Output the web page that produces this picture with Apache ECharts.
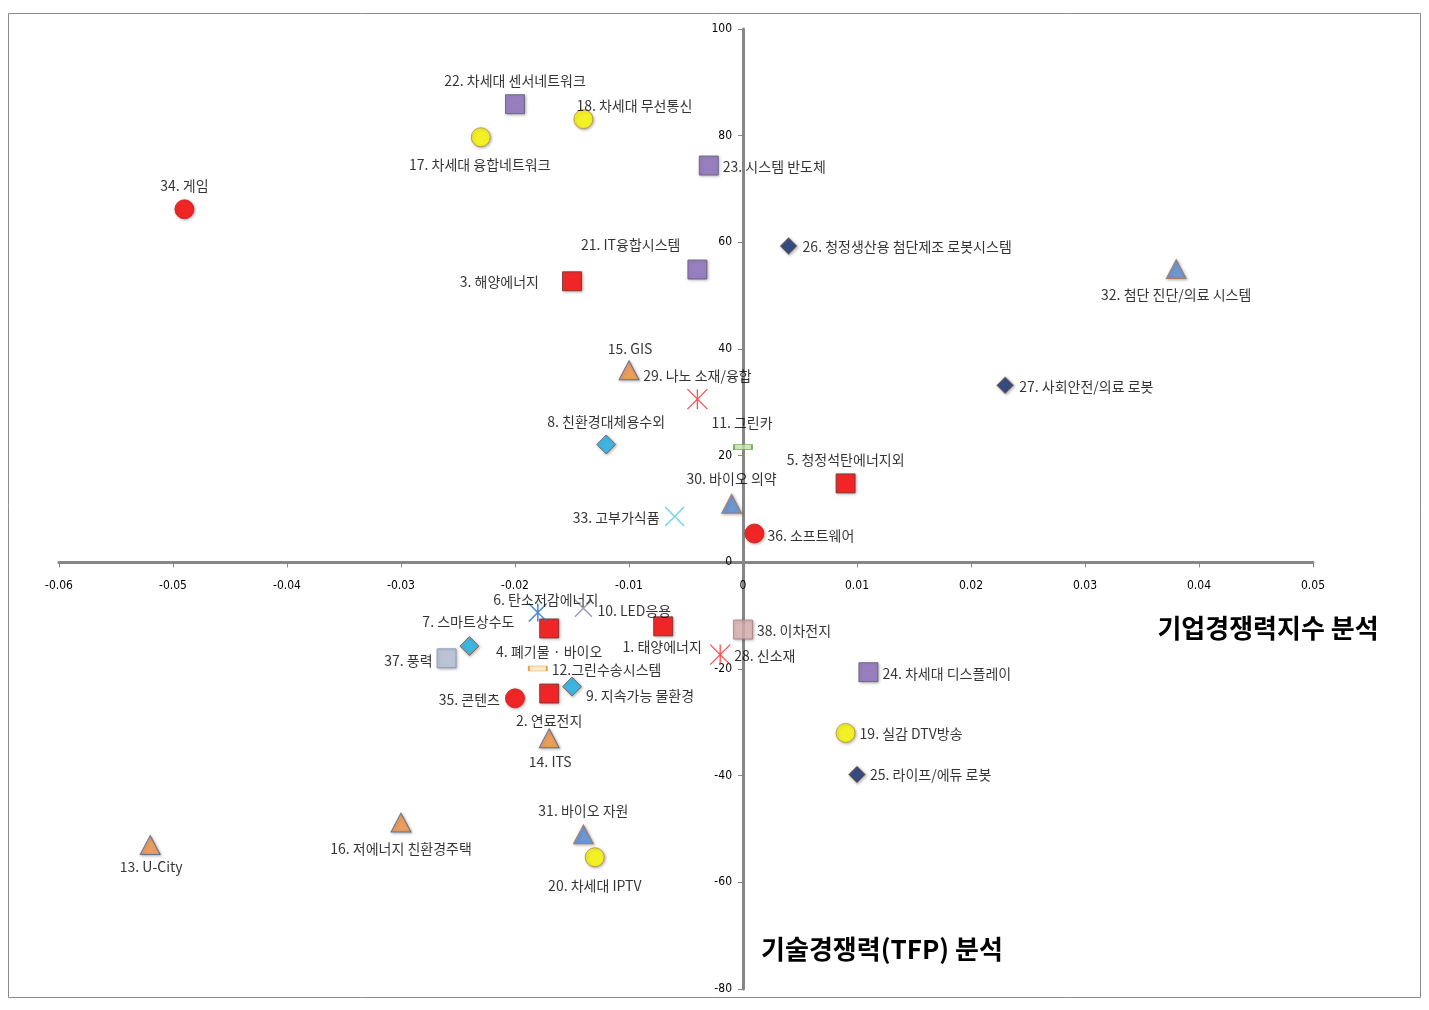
<!DOCTYPE html>
<html><head><meta charset="utf-8">
<script src="https://cdn.jsdelivr.net/npm/echarts@6/dist/echarts.min.js"></script>
<style>html,body{margin:0;padding:0;background:#fff}#c{width:1429px;height:1010px}</style>
</head><body><div id="c"></div>
<script>
// ---- data ----
const itemNames = [
  "1. 태양에너지","2. 연료전지","3. 해양에너지","4. 폐기물 · 바이오","5. 청정석탄에너지외",
  "6. 탄소저감에너지","7. 스마트상수도","8. 친환경대체용수외","9. 지속가능 물환경","10. LED응용",
  "11. 그린카","12.그린수송시스템","13. U-City","14. ITS","15. GIS",
  "16. 저에너지 친환경주택","17. 차세대 융합네트워크","18. 차세대 무선통신","19. 실감 DTV방송","20. 차세대 IPTV",
  "21. IT융합시스템","22. 차세대 센서네트워크","23. 시스템 반도체","24. 차세대 디스플레이","25. 라이프/에듀 로봇",
  "26. 청정생산용 첨단제조 로봇시스템","27. 사회안전/의료 로봇","28. 신소재","29. 나노 소재/융합","30. 바이오 의약",
  "31. 바이오 자원","32. 첨단 진단/의료 시스템","33. 고부가식품","34. 게임","35. 콘텐츠",
  "36. 소프트웨어","37. 풍력","38. 이차전지"
];
const tfpValues = [ // x: 기업경쟁력지수
  -0.007,-0.017,-0.015,-0.017,0.009,
  -0.018,-0.024,-0.012,-0.015,-0.014,
  0.000,-0.018,-0.052,-0.017,-0.010,
  -0.030,-0.023,-0.014,0.009,-0.013,
  -0.004,-0.020,-0.003,0.011,0.010,
  0.004,0.023,-0.002,-0.004,-0.001,
  -0.014,0.038,-0.006,-0.049,-0.020,
  0.001,-0.026,0.000
];
const techValues = [ // y: 기술경쟁력
  -12.0,-24.6,52.7,-12.4,14.8,
  -9.4,-15.7,22.1,-23.3,-8.6,
  21.6,-19.9,-53.0,-33.0,36.0,
  -48.8,79.7,83.1,-32.0,-55.3,
  54.9,85.9,74.4,-20.6,-39.8,
  59.3,33.2,-17.3,30.6,11.0,
  -51.0,55.0,8.6,66.2,-25.5,
  5.4,-18.0,-12.6
];
const itemGroups = [
  "redSq","redSq","redSq","redSq","redSq",
  "blueStar","cyanDia","cyanDia","cyanDia","grayX",
  "greenDash","creamDash","orangeTri","orangeTri","orangeTri",
  "orangeTri","yellowCir","yellowCir","yellowCir","yellowCir",
  "purpleSq","purpleSq","purpleSq","purpleSq","navyDia",
  "navyDia","navyDia","redStar","redStar","blueTri",
  "blueTri","blueTri","lblueX","redCir","redCir",
  "redCir","graySq","pinkSq"
];
const xTicks = [-0.06,-0.05,-0.04,-0.03,-0.02,-0.01,0,0.01,0.02,0.03,0.04,0.05];
const yTicks = [-80,-60,-40,-20,0,20,40,60,80,100];

// ---- styles ----
const shadow = {shadowBlur:3, shadowColor:'rgba(0,0,0,0.35)', shadowOffsetX:1, shadowOffsetY:1};
const STAR = 'path://M0,0L20,20M20,0L0,20M10,0L10,20';
const XMARK = 'path://M0,0L20,20M20,0L0,20';
const groupStyles = {
  redSq:    {symbol:'rect', size:19, item:Object.assign({color:'#FF0000', borderColor:'#6b3030', borderWidth:1}, shadow)},
  cyanDia:  {symbol:'diamond', size:19, item:Object.assign({color:'#1DB4EA', borderColor:'#8a4a3a', borderWidth:1}, shadow)},
  navyDia:  {symbol:'diamond', size:17, item:Object.assign({color:'#15306E', borderColor:'#b08060', borderWidth:1}, shadow)},
  orangeTri:{symbol:'triangle', size:[20,19], item:Object.assign({color:'#F79646', borderColor:'#4a5f8f', borderWidth:1}, shadow)},
  blueTri:  {symbol:'triangle', size:[20,19], item:Object.assign({color:'#5B8ED6', borderColor:'#b07050', borderWidth:1}, shadow)},
  yellowCir:{symbol:'circle', size:19, item:Object.assign({color:'#FFFF00', borderColor:'#b88a40', borderWidth:1}, shadow)},
  purpleSq: {symbol:'rect', size:19, item:Object.assign({color:'#8E6FBF', borderColor:'#5f5a70', borderWidth:1}, shadow)},
  redCir:   {symbol:'circle', size:19, item:Object.assign({color:'#FF0000', borderColor:'#c02020', borderWidth:1}, shadow)},
  graySq:   {symbol:'rect', size:19, item:Object.assign({color:'#BCC6DC', borderColor:'#8090b0', borderWidth:1}, shadow)},
  pinkSq:   {symbol:'rect', size:19, item:Object.assign({color:'#E2B6B6', borderColor:'#a08080', borderWidth:1}, shadow)},
  greenDash:{symbol:'rect', size:[18,5], item:{color:'#C6E0A0', borderColor:'#5a9a3a', borderWidth:1}},
  creamDash:{symbol:'rect', size:[18,5], item:{color:'#FCE8B0', borderColor:'#E08A30', borderWidth:1}},
  redStar:  {symbol:STAR, size:20, item:{color:'rgba(0,0,0,0)', borderColor:'#FF2020', borderWidth:1.3}},
  blueStar: {symbol:STAR, size:18, item:{color:'rgba(0,0,0,0)', borderColor:'#1F70C8', borderWidth:1.6}},
  grayX:    {symbol:XMARK, size:17, item:{color:'rgba(0,0,0,0)', borderColor:'#8A7FA8', borderWidth:1.5}},
  lblueX:   {symbol:XMARK, size:19, item:{color:'rgba(0,0,0,0)', borderColor:'#4FC8F0', borderWidth:1.5}}
};
// label placement per item: [align, dx, dy] relative to marker centre
const labelPlace = [
  ['center',-1,20],['center',0,27],['right',-33,0],['center',0,23],['center',0,-24],
  ['center',8,-13],['center',-1,-24],['center',0,-23],['left',14,9],['left',14,2],
  ['center',-1,-24],['left',14,1],['center',1,22],['center',1,23],['center',1,-22],
  ['center',0,26],['center',-1,27],['left',-7,-13],['left',14,1],['center',0,28],
  ['right',-17,-25],['center',0,-24],['left',14,1],['left',14,1],['left',13,0],
  ['left',14,1],['left',14,1],['left',14,1],['center',0,-23],['center',0,-25],
  ['center',0,-24],['center',0,26],['right',-15,1],['center',0,-24],['right',-15,1],
  ['left',13,2],['right',-14,2],['left',14,1]
];

const LABEL_FONT = '"Noto Sans CJK KR", "Noto Sans", sans-serif';
const TICK_FONT = '"Liberation Sans Narrow", "DejaVu Sans Condensed", "Liberation Sans", sans-serif';

const GRID = {left: 59, right: 116, top: 29, bottom: 21};
const W = 1429, H = 1010;
const xMin = xTicks[0], xMax = xTicks[xTicks.length-1];
const yMin = yTicks[0], yMax = yTicks[yTicks.length-1];
const gridW = W - GRID.left - GRID.right, gridH = H - GRID.top - GRID.bottom;
// shift axes so they cross at the origin (derived from the axis ranges)
const yAxisOffset = -gridW * (0 - xMin) / (xMax - xMin);
const xAxisOffset = -gridH * (0 - yMin) / (yMax - yMin);

const groupOrder = [];
itemGroups.forEach(g => { if (!groupOrder.includes(g)) groupOrder.push(g); });
const seriesItemIdx = [];

const series = groupOrder.map((g, si) => {
  const st = groupStyles[g];
  const data = [];
  seriesItemIdx[si] = [];
  itemGroups.forEach((gg, i) => {
    if (gg !== g) return;
    seriesItemIdx[si].push(i);
    data.push({name: itemNames[i], value: [tfpValues[i], techValues[i]]});
  });
  return {
    type: 'scatter',
    name: g,
    symbol: st.symbol,
    symbolSize: st.size,
    itemStyle: st.item,
    label: {
      show: true, position: 'inside', formatter: p => p.name,
      color: '#000', fontSize: 14, fontFamily: LABEL_FONT
    },
    labelLayout: function (p) {
      const i = seriesItemIdx[p.seriesIndex][p.dataIndex];
      const lp = labelPlace[i];
      return {
        x: p.rect.x + p.rect.width / 2 + lp[1],
        y: p.rect.y + p.rect.height / 2 + lp[2],
        align: lp[0], verticalAlign: 'middle', hideOverlap: false
      };
    },
    emphasis: {disabled: true},
    data: data,
    z: 3
  };
});

const axisCol = '#868686';
const chart = echarts.init(document.getElementById('c'), null, {renderer: 'canvas'});
chart.setOption({
  animation: false,
  backgroundColor: '#fff',
  grid: Object.assign({containLabel: false}, GRID),
  xAxis: {
    type: 'value', min: xMin, max: xMax, interval: 0.01,
    position: 'bottom', offset: xAxisOffset,
    axisLine: {show: true, onZero: false, lineStyle: {color: axisCol, width: 3}},
    axisTick: {show: true, length: 5, lineStyle: {color: axisCol, width: 1}},
    axisLabel: {margin: 18, fontSize: 12, color: '#000', fontFamily: TICK_FONT,
      formatter: v => { const r = Math.round(v*100)/100; return r === 0 ? '0' : String(r); }},
    splitLine: {show: false}
  },
  yAxis: {
    type: 'value', min: yMin, max: yMax, interval: 20,
    position: 'left', offset: yAxisOffset,
    axisLine: {show: true, onZero: false, lineStyle: {color: axisCol, width: 3}},
    axisTick: {show: true, length: 5, lineStyle: {color: axisCol, width: 1}},
    axisLabel: {margin: 11, fontSize: 12, color: '#000', fontFamily: TICK_FONT},
    splitLine: {show: false}
  },
  graphic: [
    {type: 'rect', shape: {x: 8.5, y: 13.5, width: 1412, height: 984}, style: {fill: 'none', stroke: '#8a8a8a', lineWidth: 1}, z: -1, silent: true},
    {type: 'text', x: 1268, y: 628, style: {text: '기업경쟁력지수 분석', font: 'bold 26px ' + LABEL_FONT, fill: '#000', textAlign: 'center', textVerticalAlign: 'middle'}},
    {type: 'text', x: 882, y: 949, style: {text: '기술경쟁력(TFP) 분석', font: 'bold 26px ' + LABEL_FONT, fill: '#000', textAlign: 'center', textVerticalAlign: 'middle'}}
  ],
  series: series
});
</script>
</body></html>
